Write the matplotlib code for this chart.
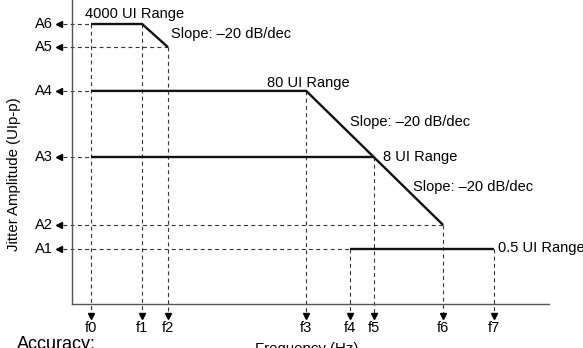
import matplotlib
matplotlib.use("Agg")
from matplotlib import pyplot as plt

plt.rcParams['font.family'] = ['Liberation Sans', 'DejaVu Sans']

# schematic positions along the (unitless) frequency and amplitude axes
freq_names = ['f0', 'f1', 'f2', 'f3', 'f4', 'f5', 'f6', 'f7']
freq_vals = [4.0, 14.7, 20.1, 49.1, 58.3, 63.3, 77.8, 88.5]
amp_names = ['A1', 'A2', 'A3', 'A4', 'A5', 'A6']
amp_vals = [18.1, 26.0, 48.4, 70.1, 84.5, 92.1]

f = dict(zip(freq_names, freq_vals))
A = dict(zip(amp_names, amp_vals))

# mask segments (freq, amp)
mask_4000 = [('f0', 'A6'), ('f1', 'A6'), ('f2', 'A5')]
mask_80 = [('f0', 'A4'), ('f3', 'A4'), ('f6', 'A2')]
mask_8 = [('f0', 'A3'), ('f5', 'A3')]
mask_05 = [('f4', 'A1'), ('f7', 'A1')]

# how far each guide line runs
amp_guide_end = {'A6': 'f0', 'A5': 'f2', 'A4': 'f0', 'A3': 'f0', 'A2': 'f6', 'A1': 'f4'}
freq_guide_top = {'f0': 'A6', 'f1': 'A6', 'f2': 'A5', 'f3': 'A4', 'f4': 'A1',
                  'f5': 'A3', 'f6': 'A2', 'f7': 'A1'}

fig = plt.figure(figsize=(5.83, 3.48), dpi=100)
ax = fig.add_axes([72 / 583, 44 / 348, 477 / 583, 304 / 348])
ax.set_xlim(0, 100)
ax.set_ylim(0, 100)
for s in ['top', 'right']:
    ax.spines[s].set_visible(False)
for s in ['left', 'bottom']:
    ax.spines[s].set_color('#555555')
    ax.spines[s].set_linewidth(1.0)
ax.set_xticks([])
ax.set_yticks([])

dash = dict(color='#333333', lw=0.8, linestyle=(0, (3.5, 3)), clip_on=False)
fs = 10.5

# horizontal guides with left arrows
for name in amp_names:
    y = A[name]
    ax.plot([-1.9, f[amp_guide_end[name]]], [y, y], **dash)
    ax.plot([-2.8], [y], marker='<', color='black', markersize=5, clip_on=False)
    ax.text(-4.0, y, name, ha='right', va='center', fontsize=fs)

# vertical guides with down arrows
for name in freq_names:
    x = f[name]
    ax.plot([x, x], [A[freq_guide_top[name]], -3.0], **dash)
    ax.plot([x], [-3.9], marker='v', color='black', markersize=5, clip_on=False)
    ax.text(x, -5.6, name, ha='center', va='top', fontsize=fs)

# mask lines
for seg in [mask_4000, mask_80, mask_8, mask_05]:
    xs = [f[p[0]] for p in seg]
    ys = [A[p[1]] for p in seg]
    ax.plot(xs, ys, color='#111111', lw=1.7, solid_capstyle='butt', clip_on=False)

ax.text(2.7, 94.1, '4000 UI Range', fontsize=fs, va='baseline')
ax.text(20.8, 87.5, 'Slope: \u201320 dB/dec', fontsize=fs, va='baseline')
ax.text(40.9, 71.4, '80 UI Range', fontsize=fs, va='baseline')
ax.text(58.3, 58.6, 'Slope: \u201320 dB/dec', fontsize=fs, va='baseline')
ax.text(65.2, 47.0, '8 UI Range', fontsize=fs, va='baseline')
ax.text(71.5, 37.2, 'Slope: \u201320 dB/dec', fontsize=fs, va='baseline')
ax.text(89.3, 17.1, '0.5 UI Range', fontsize=fs, va='baseline')

fig.text(14 / 583, 1 - 174 / 348, 'Jitter Amplitude (UIp-p)', rotation=90,
         ha='center', va='center', fontsize=10.8)
fig.text(255 / 583, 1 - 342 / 348, 'Frequency (Hz)', ha='left', va='top', fontsize=10.8)
fig.text(17 / 583, 1 - 336 / 348, 'Accuracy:', ha='left', va='top', fontsize=13)

fig.savefig('out.png', dpi=100)
